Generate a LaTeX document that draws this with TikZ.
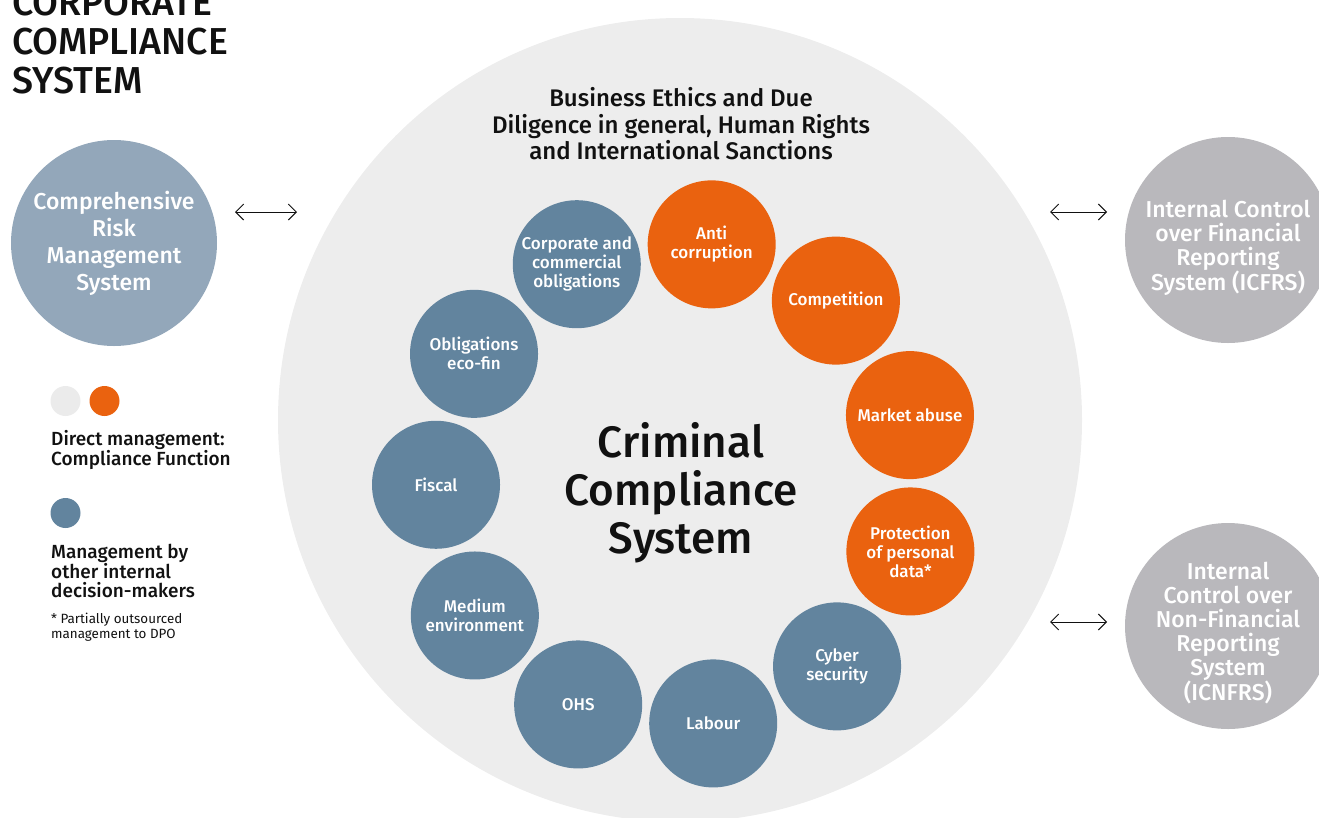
\documentclass[tikz,border=0pt]{standalone}
\usepackage{fontspec}
\setmainfont{Fira Sans}[BoldFont={Fira Sans Medium}]
\usetikzlibrary{arrows.meta,calc,positioning}
\definecolor{ringbg}{HTML}{EDEDED}
\definecolor{keygray}{HTML}{EBEBEB}
\definecolor{orng}{HTML}{EA620F}
\definecolor{slate}{HTML}{62849E}
\definecolor{riskblue}{HTML}{93A7BA}
\definecolor{ctrlgray}{HTML}{B9B8BC}
\definecolor{ink}{HTML}{111111}

\begin{document}
\begin{tikzpicture}[x=1pt,y=-1pt,>={Straight Barb[length=8pt,width=16pt]},
  topic/.style={circle,fill=#1,minimum size=128pt,inner sep=0pt,text=white,align=center,font=\bfseries\fontsize{17}{19}\selectfont},
  system/.style={circle,fill=#1,minimum size=206pt,inner sep=0pt,text=white,align=center,font=\bfseries\fontsize{23}{24}\selectfont},
  systext/.style={inner sep=0pt,text=white,align=center,font=\bfseries\fontsize{23}{24}\selectfont},
  keydot/.style={circle,fill=#1,minimum size=30pt,inner sep=0pt},
  keytext/.style={anchor=north west,inner sep=0pt,align=left,text=ink,font=\bfseries\fontsize{19}{18.5}\selectfont},
  link/.style={<->,line width=1pt,ink}]
\useasboundingbox (0,0) rectangle (1319,817);
% big grey disc: criminal compliance
\node[circle,fill=ringbg,minimum size=804pt,inner sep=0pt] (crim) at (680,420) {};
\node[align=center,text=ink,font=\bfseries\fontsize{24}{26.5}\selectfont] (ethics) at (681,124) {Business Ethics and Due\\Diligence in general, Human Rights\\and International Sanctions};
\node[align=center,text=ink,font=\bfseries\fontsize{44}{48}\selectfont] (ccs) at (681,493) {Criminal\\Compliance\\System};
% ring of eleven topics, 360/11 degrees apart
\foreach \name/\txt/\col [count=\k from 0] in {anti/{Anti\\corruption}/orng, comp/Competition/orng, market/Market abuse/orng, data/{Protection\\of personal\\data*}/orng, cyber/{Cyber\\security}/slate, labour/Labour/slate, ohs/OHS/slate, medium/{Medium\\environment}/slate, fiscal/Fiscal/slate, ecofin/{Obligations\\eco-fin}/slate, corp/{Corporate and\\commercial\\obligations}/slate}
  \node[topic=\col] (\name) at ($(678,484)+({82-\k*360/11}:242 and -242)$) {\txt};
% systems on either side
\node[system=riskblue,font=\bfseries\fontsize{23}{27}\selectfont] (risk) at (114,243) {Comprehensive\\Risk\\Management\\System};
\node[system=ctrlgray] (icfrs) at (1228,240) {};
\node[systext] (icfrstxt) at ([yshift=-8pt]icfrs.center) {Internal Control\\over Financial\\Reporting\\System (ICFRS)};
\node[system=ctrlgray] (icnfrs) at (1228,626) {};
\node[systext] (icnfrstxt) at ([yshift=-7pt]icnfrs.center) {Internal\\Control over\\Non-Financial\\Reporting\\System\\(ICNFRS)};
\coordinate (l1) at (235,212); \coordinate (l2) at (297,212);
\coordinate (r1) at (1050,212); \coordinate (r2) at (1107,212);
\coordinate (s1) at (1050,622); \coordinate (s2) at (1107,622);
\draw[link] (l1) -- (l2);
\draw[link] (r1) -- (r2);
\draw[link] (s1) -- (s2);
% title and key
\node[anchor=north west,inner sep=0pt,align=left,text=ink,font=\bfseries\fontsize{37.5}{39}\selectfont] (title) at (12,-11) {CORPORATE\\COMPLIANCE\\SYSTEM};
\node[keydot=keygray] (kgray) at (65.5,401) {};
\node[keydot=orng] (korng) at (104.5,401) {};
\node[keytext] (kdirect) at (51,430) {Direct management:\\Compliance Function};
\node[keydot=slate] (kslate) at (65.5,513) {};
\node[keytext] (kother) at (51,544) {Management by\\other internal\\decision-makers};
\node[keytext,font=\fontsize{13.4}{15}\selectfont] (knote) at (51,613) {* Partially outsourced\\management to DPO};
\end{tikzpicture}
\end{document}
